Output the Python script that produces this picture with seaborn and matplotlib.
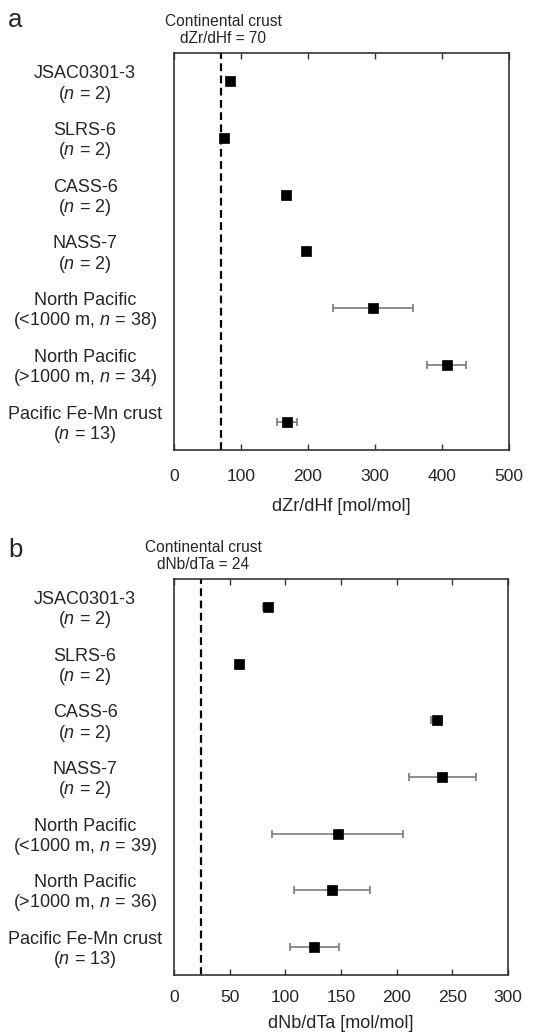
import numpy as np
import pandas as pd
import matplotlib
matplotlib.use("Agg")
import matplotlib.pyplot as plt
import matplotlib.transforms as mtransforms
import seaborn as sns

# ---- data ----
labels_a = ["JSAC0301-3\n($\\mathit{n}$ = 2)", "SLRS-6\n($\\mathit{n}$ = 2)",
            "CASS-6\n($\\mathit{n}$ = 2)", "NASS-7\n($\\mathit{n}$ = 2)",
            "North Pacific\n(<1000 m, $\\mathit{n}$ = 38)",
            "North Pacific\n(>1000 m, $\\mathit{n}$ = 34)",
            "Pacific Fe-Mn crust\n($\\mathit{n}$ = 13)"]
zrhf = [84, 75, 167, 197, 297, 407, 168]
zrhf_err = [0, 0, 0, 0, 60, 29, 15]

labels_b = ["JSAC0301-3\n($\\mathit{n}$ = 2)", "SLRS-6\n($\\mathit{n}$ = 2)",
            "CASS-6\n($\\mathit{n}$ = 2)", "NASS-7\n($\\mathit{n}$ = 2)",
            "North Pacific\n(<1000 m, $\\mathit{n}$ = 39)",
            "North Pacific\n(>1000 m, $\\mathit{n}$ = 36)",
            "Pacific Fe-Mn crust\n($\\mathit{n}$ = 13)"]
nbta = [84, 58, 236, 241, 147, 142, 126]
nbta_err = [4, 0, 5, 30, 59, 34, 22]

crust_zrhf = 70
crust_nbta = 24
xticks_a = [0, 100, 200, 300, 400, 500]
xticks_b = [0, 50, 100, 150, 200, 250, 300]

sns.set_style("white")
plt.rcParams['font.family'] = ['Liberation Sans', 'DejaVu Sans']
plt.rcParams['mathtext.fontset'] = 'custom'
plt.rcParams['mathtext.rm'] = 'Liberation Sans'
plt.rcParams['mathtext.it'] = 'Liberation Sans:italic'

fig = plt.figure(figsize=(5.39, 10.35), dpi=100)
W, H = 539, 1035

def px_axes(l, t, r, b):
    return fig.add_axes([l / W, 1 - b / H, (r - l) / W, (b - t) / H])

ax_a = px_axes(174, 53, 509, 450)
ax_b = px_axes(174, 579, 508, 975)

def panel(ax, labels, vals, errs, crust, xticks, xlabel, crust_label, tickpad,
          labelpad, ann_dx):
    df = pd.DataFrame({"pos": np.arange(len(labels)), "val": vals, "err": errs})
    ax.errorbar(df["val"], df["pos"], xerr=df["err"], fmt="none",
                ecolor="#7a7a7a", elinewidth=1.2, capsize=3, capthick=1.2, zorder=2)
    sns.scatterplot(data=df, x="val", y="pos", marker="s", s=55, color="black",
                    edgecolor="black", linewidth=0.5, ax=ax, zorder=3, legend=False)
    ax.axvline(crust, color="black", lw=1.6, ls=(0, (3.5, 2)), zorder=1)
    ax.set_xlim(xticks[0], xticks[-1])
    ax.set_ylim(len(labels) - 0.5, -0.5)
    ax.set_xticks(xticks)
    ax.set_yticks(df["pos"])
    ax.set_yticklabels(labels, fontsize=13, ha="center", multialignment="center",
                       linespacing=1.08)
    ax.tick_params(axis="y", length=0, pad=64)
    ax.tick_params(axis="x", direction="in", top=True, bottom=True, length=4,
                   width=1.0, color="#333333", labelsize=12.5, pad=tickpad)
    for s in ax.spines.values():
        s.set_linewidth(1.2)
        s.set_color("#333333")
    ax.set_xlabel(xlabel, fontsize=13, labelpad=labelpad)
    ax.set_ylabel("")
    trans = mtransforms.blended_transform_factory(ax.transData, ax.transAxes)
    ax.annotate(crust_label, xy=(crust, 1.0), xycoords=trans,
                xytext=(ann_dx, 5), textcoords="offset points",
                ha="center", va="bottom", fontsize=11.2, multialignment="center",
                linespacing=1.15, annotation_clip=False)

panel(ax_a, labels_a, zrhf, zrhf_err, crust_zrhf, xticks_a, "dZr/dHf [mol/mol]",
      "Continental crust\ndZr/dHf = %d" % crust_zrhf, 14, 10, 1.5)
panel(ax_b, labels_b, nbta, nbta_err, crust_nbta, xticks_b, "dNb/dTa [mol/mol]",
      "Continental crust\ndNb/dTa = %d" % crust_nbta, 11, 7, 2)

fig.text(8 / W, 1 - 27 / H, "a", fontsize=18.5, ha="left", va="baseline")
fig.text(8 / W, 1 - 557 / H, "b", fontsize=18.5, ha="left", va="baseline")

fig.savefig("out.png", dpi=100)
